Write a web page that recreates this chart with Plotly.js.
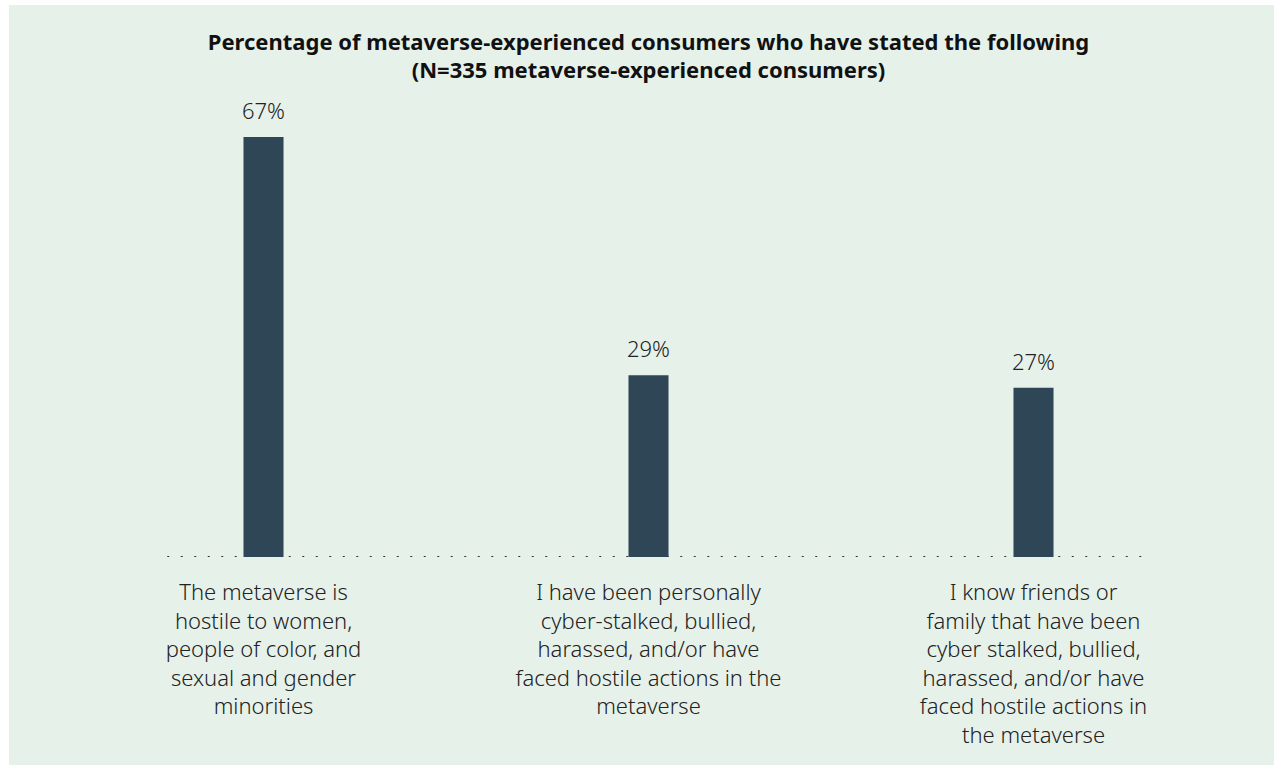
<!DOCTYPE html>
<html>
<head>
<meta charset="utf-8">
<script src="https://cdn.plot.ly/plotly-3.0.1.min.js"></script>
<style>
html,body{margin:0;padding:0;background:#ffffff;}
#chart{position:absolute;left:9px;top:5px;width:1265px;height:760px;}
</style>
</head>
<body>
<div id="chart"></div>
<script>
const categories = [
  "The metaverse is<br>hostile to women,<br>people of color, and<br>sexual and gender<br>minorities",
  "I have been personally<br>cyber-stalked, bullied,<br>harassed, and/or have<br>faced hostile actions in the<br>metaverse",
  "I know friends or<br>family that have been<br>cyber stalked, bullied,<br>harassed, and/or have<br>faced hostile actions in<br>the metaverse"
];
const values = [67, 29, 27];
const valueLabels = values.map(v => v + "%");
const xIdx = categories.map((c, i) => i);

const FONT = "'Noto Sans', Lato, sans-serif";
const bg = "#e6f1ea";

const trace = {
  type: "bar",
  x: xIdx,
  y: values,
  width: 0.104,
  marker: {color: "#2f4656"},
  hoverinfo: "skip"
};

const annotations = xIdx.map((x, i) => ({
  x: x, y: values[i], xref: "x", yref: "y",
  text: valueLabels[i], showarrow: false,
  yanchor: "bottom", yshift: 10,
  font: {family: FONT, size: 22, weight: 300, color: "#222222"}
}));

const layout = {
  width: 1265, height: 760,
  paper_bgcolor: bg, plot_bgcolor: bg,
  margin: {l: 62, r: 48, t: 80, b: 208},
  showlegend: false,
  title: {
    text: "<b>Percentage of metaverse-experienced consumers who have stated the following<br>(N=335 metaverse-experienced consumers)</b>",
    font: {family: FONT, size: 22, color: "#111111"},
    x: 0.5, xref: "paper", xanchor: "center",
    y: 0.941, yref: "container", yanchor: "top"
  },
  xaxis: {
    range: [-0.5, 2.5],
    tickmode: "array", tickvals: xIdx, ticktext: categories,
    showgrid: false, zeroline: false, showline: false, ticks: "",
    ticklabelstandoff: 20,
    tickfont: {family: FONT, size: 22, weight: 300, color: "#222222"}
  },
  yaxis: {
    range: [0, 75.3],
    showgrid: false, zeroline: false, showline: false,
    showticklabels: false, ticks: ""
  },
  shapes: [{
    type: "line", xref: "x", yref: "y",
    x0: -0.25, x1: 2.28, y0: 0, y1: 0,
    layer: "below",
    line: {color: "#333333", width: 2, dash: "2px,11.5px"}
  }],
  annotations: annotations
};

Plotly.newPlot("chart", [trace], layout, {displayModeBar: false, staticPlot: true});
</script>
</body>
</html>
